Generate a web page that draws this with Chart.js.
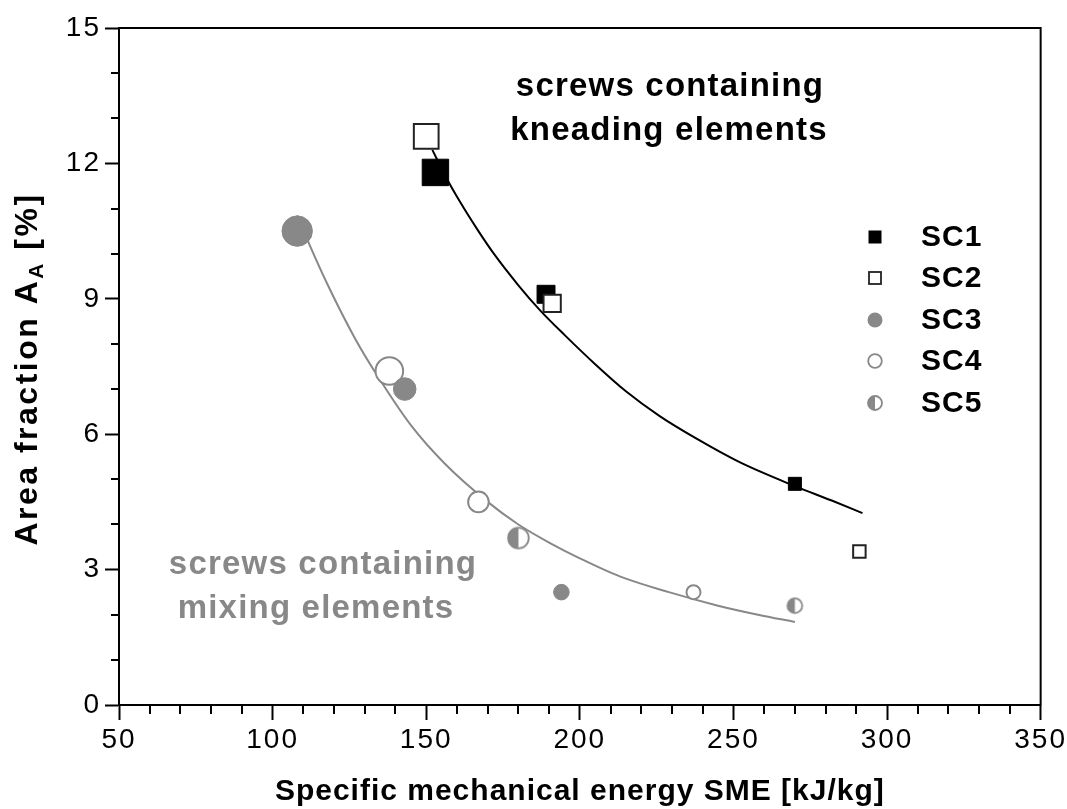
<!DOCTYPE html>
<html>
<head>
<meta charset="utf-8">
<script src="https://cdn.jsdelivr.net/npm/chart.js@4.4.1/dist/chart.umd.min.js"></script>
<style>
  body { margin: 0; background: #fff; }
  #wrap { width: 1067px; height: 809px; }
</style>
</head>
<body>
<div id="wrap"><canvas id="chart" width="1067" height="809"></canvas></div>
<script>
// tick labels
const xMajorTicks = [50, 100, 150, 200, 250, 300, 350]
const yMajorTicks = [0, 3, 6, 9, 12, 15]

// measured points
const sc1X = [153, 189, 270]
const sc1Y = [11.8, 9.1, 4.9]
const sc2X = [150, 191, 291]
const sc2Y = [12.6, 8.9, 3.4]
const sc3X = [108, 143, 194]
const sc3Y = [10.5, 7.0, 2.5]
const sc4X = [138, 167, 237]
const sc4Y = [7.4, 4.5, 2.5]
const sc5X = [180, 270]
const sc5Y = [3.7, 2.2]

// fit curves
const kneadFitX = [152, 156, 161, 167, 172, 180, 187, 195, 205, 215, 226, 238, 252, 270, 282, 292]
const kneadFitY = [12.3, 11.75, 11.15, 10.5, 10.0, 9.3, 8.75, 8.2, 7.55, 6.95, 6.4, 5.9, 5.38, 4.85, 4.53, 4.25]
const mixFitX = [108, 112, 118, 127, 135, 145, 156, 170, 180, 190, 200, 213, 229, 245, 258, 270]
const mixFitY = [10.85, 10.2, 9.3, 8.1, 7.2, 6.2, 5.35, 4.5, 4.0, 3.6, 3.25, 2.85, 2.5, 2.2, 2.0, 1.84]

const legendNames = ["SC1", "SC2", "SC3", "SC4", "SC5"]

// marker sizes (styles)
const sc1Radius = [18.7, 12.7, 9.2]
const sc2Radius = [17.5, 12.2, 8.8]
const sc3Radius = [15.2, 11.3, 7.8]
const sc4Radius = [13.8, 10.3, 7.0]
const sc5Radius = [10.3, 7.4]

const GRAY = "#888888"
const FONT = "'Liberation Sans', Arial, sans-serif"

const pts = (xs, ys) => xs.map((x, i) => ({x: x, y: ys[i]}))

function halfCircle(r){
    const c = document.createElement("canvas")
    const s = Math.ceil(2 * r + 4)
    c.width = s; c.height = s
    const g = c.getContext("2d")
    const m = s / 2
    g.fillStyle = "#fff"
    g.beginPath(); g.arc(m, m, r, 0, Math.PI * 2); g.fill()
    g.fillStyle = GRAY
    g.beginPath(); g.arc(m, m, r, Math.PI / 2, Math.PI * 3 / 2); g.closePath(); g.fill()
    g.strokeStyle = GRAY; g.lineWidth = 1.8
    g.beginPath(); g.arc(m, m, r, 0, Math.PI * 2); g.stroke()
    return c
}

const extras = {
    id: "extras",
    beforeDraw(chart){
        // wider tick labels, like the original
        chart.ctx.letterSpacing = "2px"
    },
    afterDraw(chart){
        const ctx = chart.ctx
        const a = chart.chartArea
        const xs = chart.scales.x, ys = chart.scales.y
        ctx.save()
        // frame
        ctx.strokeStyle = "#000"; ctx.lineWidth = 2
        ctx.strokeRect(a.left, a.top, a.right - a.left, a.bottom - a.top)
        // minor ticks
        ctx.beginPath()
        xs.ticks.forEach(t => {
            if (t.value % 50 !== 0){
                const px = Math.round(xs.getPixelForValue(t.value))
                ctx.moveTo(px, a.bottom); ctx.lineTo(px, a.bottom + 9)
            }
        })
        ys.ticks.forEach(t => {
            if (t.value % 3 !== 0){
                const py = Math.round(ys.getPixelForValue(t.value))
                ctx.moveTo(a.left, py); ctx.lineTo(a.left - 8, py)
            }
        })
        ctx.stroke()

        // annotations
        ctx.textAlign = "center"; ctx.textBaseline = "middle"
        ctx.letterSpacing = "1.2px"
        ctx.font = "bold 33px " + FONT
        ctx.fillStyle = "#000"
        ctx.fillText("screws containing", 670, 87)
        ctx.fillText("kneading elements", 669, 131)
        ctx.fillStyle = GRAY
        ctx.fillText("screws containing", 323, 565)
        ctx.fillText("mixing elements", 316, 609)

        // legend
        ctx.letterSpacing = "1px"
        ctx.font = "bold 30px " + FONT
        ctx.textAlign = "left"
        const lx = 875
        const rows = [237, 278, 320, 361, 403]
        legendNames.forEach((name, i) => {
            const y = rows[i]
            ctx.fillStyle = "#000"
            ctx.fillText(name, 921, y + 1)
            ctx.lineWidth = 1.8
            if (i === 0){ ctx.fillRect(lx - 6.5, y - 6.5, 13, 13) }
            if (i === 1){ ctx.strokeStyle = "#222"; ctx.strokeRect(lx - 6, y - 6, 12, 12) }
            if (i === 2){ ctx.fillStyle = GRAY; ctx.beginPath(); ctx.arc(lx, y, 7.5, 0, Math.PI * 2); ctx.fill() }
            if (i === 3){ ctx.strokeStyle = GRAY; ctx.beginPath(); ctx.arc(lx, y, 6.8, 0, Math.PI * 2); ctx.stroke() }
            if (i === 4){ const c = halfCircle(7); ctx.drawImage(c, lx - c.width / 2, y - c.height / 2) }
        })

        // axis titles
        ctx.fillStyle = "#000"
        ctx.textAlign = "center"
        ctx.letterSpacing = "1px"
        ctx.font = "bold 30px " + FONT
        ctx.fillText("Specific mechanical energy SME [kJ/kg]", (a.left + a.right) / 2, 792)

        ctx.translate(28, 369)
        ctx.rotate(-Math.PI / 2)
        ctx.textAlign = "left"
        ctx.letterSpacing = "2.5px"
        const mainFont = "bold 32px " + FONT, subFont = "bold 21px " + FONT
        ctx.font = mainFont
        const w1 = ctx.measureText("Area fraction A").width
        const w3 = ctx.measureText(" [%]").width
        ctx.font = subFont
        const w2 = ctx.measureText("A").width
        let x0 = -(w1 + w2 + w3) / 2
        ctx.font = mainFont
        ctx.fillText("Area fraction A", x0, 0)
        ctx.font = subFont
        ctx.fillText("A", x0 + w1, 9)
        ctx.font = mainFont
        ctx.fillText(" [%]", x0 + w1 + w2, 0)
        ctx.restore()
        ctx.letterSpacing = "0px"
    }
}

const context = document.getElementById("chart").getContext("2d")
new Chart(context, {
    type: "scatter",
    data: {
        datasets: [
            {
                label: "kneading fit", data: pts(kneadFitX, kneadFitY), showLine: true,
                borderColor: "#000", borderWidth: 2, pointRadius: 0, tension: 0.4,
                cubicInterpolationMode: "monotone", order: 10
            },
            {
                label: "mixing fit", data: pts(mixFitX, mixFitY), showLine: true,
                borderColor: GRAY, borderWidth: 2, pointRadius: 0, tension: 0.4,
                cubicInterpolationMode: "monotone", order: 10
            },
            {
                label: "SC1", data: pts(sc1X, sc1Y), pointStyle: "rect",
                pointRadius: sc1Radius, backgroundColor: "#000", borderColor: "#000", borderWidth: 1, order: 5
            },
            {
                label: "SC2", data: pts(sc2X, sc2Y), pointStyle: "rect",
                pointRadius: sc2Radius, backgroundColor: "#fff", borderColor: "#222", borderWidth: 2, order: 4
            },
            {
                label: "SC4", data: pts(sc4X, sc4Y), pointStyle: "circle",
                pointRadius: sc4Radius, backgroundColor: "#fff", borderColor: GRAY, borderWidth: 2, order: 3
            },
            {
                label: "SC3", data: pts(sc3X, sc3Y), pointStyle: "circle",
                pointRadius: sc3Radius, backgroundColor: GRAY, borderColor: GRAY, borderWidth: 1, order: 2
            },
            {
                label: "SC5", data: pts(sc5X, sc5Y),
                pointStyle: (c) => halfCircle(sc5Radius[c.dataIndex]),
                pointRadius: sc5Radius, order: 1
            }
        ]
    },
    options: {
        responsive: false,
        animation: false,
        layout: { padding: { left: 0, top: 28, right: 24, bottom: 0 } },
        scales: {
            x: {
                type: "linear", min: 50, max: 350,
                afterFit: (s) => { s.height = 104 },
                grid: {
                    drawOnChartArea: false, drawTicks: true, tickLength: 15, tickWidth: 2,
                    tickColor: (c) => xMajorTicks.includes(c.tick.value) ? "#000" : "rgba(0,0,0,0)"
                },
                border: { color: "#000", width: 2 },
                ticks: {
                    stepSize: 10, padding: 3, color: "#000", maxRotation: 0, autoSkip: false,
                    font: { family: FONT, size: 28 },
                    callback: (v) => xMajorTicks.includes(v) ? String(v) : ""
                }
            },
            y: {
                type: "linear", min: 0, max: 15,
                afterFit: (s) => { s.width = 119 },
                grid: {
                    drawOnChartArea: false, drawTicks: true, tickLength: 14, tickWidth: 2,
                    tickColor: (c) => yMajorTicks.includes(c.tick.value) ? "#000" : "rgba(0,0,0,0)"
                },
                border: { color: "#000", width: 2 },
                ticks: {
                    stepSize: 1, padding: 4, color: "#000", autoSkip: false,
                    font: { family: FONT, size: 28 },
                    callback: (v) => yMajorTicks.includes(v) ? String(v) : ""
                }
            }
        },
        plugins: {
            legend: { display: false },
            tooltip: { enabled: false }
        }
    },
    plugins: [extras]
})
</script>
</body>
</html>
